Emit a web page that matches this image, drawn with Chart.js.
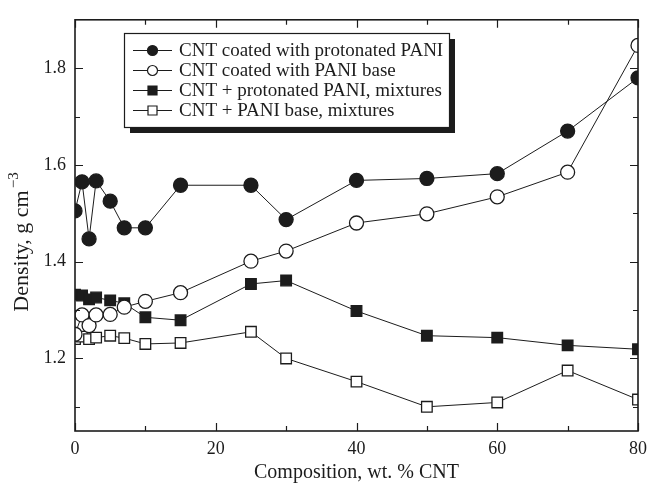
<!DOCTYPE html>
<html>
<head>
<meta charset="utf-8">
<script src="https://cdn.jsdelivr.net/npm/chart.js@4.4.1/dist/chart.umd.min.js"></script>
<style>
  html, body { margin: 0; padding: 0; background: #fff; }
</style>
</head>
<body>
<canvas id="chart" width="654" height="486"></canvas>
<script>
// Composition values (wt. % CNT) shared by all four series
const composition = [0, 1, 2, 3, 5, 7, 10, 15, 25, 30, 40, 50, 60, 70, 80];

// Densities, g cm-3
const coatedProtonated = [1.505, 1.565, 1.447, 1.567, 1.525, 1.470, 1.470, 1.558, 1.558, 1.487, 1.568, 1.572, 1.582, 1.670, 1.780];
const coatedBase = [1.250, 1.290, 1.268, 1.290, 1.291, 1.306, 1.318, 1.336, 1.401, 1.422, 1.480, 1.499, 1.534, 1.585, 1.847];
const mixProtonated = [1.332, 1.330, 1.322, 1.326, 1.320, 1.314, 1.285, 1.279, 1.354, 1.361, 1.298, 1.247, 1.243, 1.227, 1.219];
const mixBase = [1.240, 1.245, 1.240, 1.243, 1.247, 1.242, 1.230, 1.232, 1.255, 1.200, 1.152, 1.100, 1.109, 1.175, 1.115];

const seriesNames = [
    'CNT coated with protonated PANI',
    'CNT coated with PANI base',
    'CNT + protonated PANI, mixtures',
    'CNT + PANI base, mixtures'
];

// Tick values
const xLabelTicks = [0, 20, 40, 60, 80];
const xMinorTicks = [10, 30, 50, 70];
const yLabelTicks = [1.2, 1.4, 1.6, 1.8];
const yMinorTicks = [1.1, 1.3, 1.5, 1.7];

const yTitle = 'Density, g cm';
const yTitleSup = '\u22123';

const INK = '#1c1c1c';
const SERIF = "'Liberation Serif', 'Times New Roman', serif";

function toPoints(values) {
    return composition.map(function (x, i) {
        return {x: x, y: values[i]};
    });
}

function series(label, values, shape, filled) {
    return {
        label: label,
        data: toPoints(values),
        showLine: true,
        borderColor: INK,
        borderWidth: 1,
        pointStyle: shape,
        pointRadius: shape === 'rect' ? 7.5 : 7,
        pointBorderWidth: 1.3,
        pointBorderColor: INK,
        pointBackgroundColor: filled ? INK : '#fff',
        fill: false
    };
}

//Inward ticks on all four sides, plus the frame.
const frameTicks = {
    id: 'frameTicks',
    afterDraw: function (chart) {
        const ctx = chart.ctx;
        const a = chart.chartArea;
        const xs = chart.scales.x;
        const ys = chart.scales.y;
        ctx.save();
        ctx.strokeStyle = INK;
        ctx.lineWidth = 1.2;
        ctx.beginPath();
        function xTick(v, len) {
            const px = Math.round(xs.getPixelForValue(v)) + 0.5;
            ctx.moveTo(px, a.bottom); ctx.lineTo(px, a.bottom - len);
            ctx.moveTo(px, a.top); ctx.lineTo(px, a.top + len);
        }
        function yTick(v, len) {
            const py = Math.round(ys.getPixelForValue(v)) + 0.5;
            ctx.moveTo(a.left, py); ctx.lineTo(a.left + len, py);
            ctx.moveTo(a.right, py); ctx.lineTo(a.right - len, py);
        }
        xLabelTicks.forEach(function (v) { xTick(v, 8); });
        xMinorTicks.forEach(function (v) { xTick(v, 5); });
        yLabelTicks.forEach(function (v) { yTick(v, 8); });
        yMinorTicks.forEach(function (v) { yTick(v, 5); });
        ctx.stroke();
        ctx.lineWidth = 1.6;
        ctx.strokeRect(a.left, a.top, a.right - a.left, a.bottom - a.top);
        ctx.restore();
    }
};

//Rotated y axis title with a real superscript.
const yAxisTitle = {
    id: 'yAxisTitle',
    afterDraw: function (chart) {
        const ctx = chart.ctx;
        ctx.save();
        ctx.translate(22, 242);
        ctx.rotate(-Math.PI / 2);
        ctx.fillStyle = INK;
        ctx.textBaseline = 'middle';
        ctx.font = '22px ' + SERIF;
        const mainWidth = ctx.measureText(yTitle).width;
        ctx.font = '15px ' + SERIF;
        const supWidth = ctx.measureText(yTitleSup).width;
        const start = -(mainWidth + supWidth + 2) / 2;
        ctx.font = '22px ' + SERIF;
        ctx.fillText(yTitle, start, 0);
        ctx.font = '15px ' + SERIF;
        ctx.fillText(yTitleSup, start + mainWidth + 2, -8);
        ctx.restore();
    }
};

//Legend box with a drop shadow, inside the plot.
const boxLegend = {
    id: 'boxLegend',
    afterDatasetsDraw: function (chart) {
        const ctx = chart.ctx;
        const box = {left: 124, top: 33, right: 449, bottom: 127};
        const shadow = 6;
        ctx.save();
        ctx.fillStyle = INK;
        ctx.fillRect(box.left + shadow, box.top + shadow, box.right - box.left, box.bottom - box.top);
        ctx.fillStyle = '#fff';
        ctx.fillRect(box.left, box.top, box.right - box.left, box.bottom - box.top);
        ctx.strokeStyle = INK;
        ctx.lineWidth = 1.2;
        ctx.strokeRect(box.left + 0.5, box.top + 0.5, box.right - box.left, box.bottom - box.top);

        ctx.font = '19px ' + SERIF;
        ctx.textBaseline = 'middle';
        chart.data.datasets.forEach(function (ds, i) {
            const y = 50 + i * 20;
            ctx.strokeStyle = INK;
            ctx.lineWidth = 1;
            ctx.beginPath();
            ctx.moveTo(133, y + 0.5);
            ctx.lineTo(172, y + 0.5);
            ctx.stroke();
            ctx.fillStyle = ds.pointBackgroundColor;
            ctx.lineWidth = 1.2;
            ctx.beginPath();
            if (ds.pointStyle === 'rect') {
                ctx.rect(148, y - 4, 9, 9);
            } else {
                ctx.arc(152.5, y + 0.5, 5, 0, Math.PI * 2);
            }
            ctx.fill();
            ctx.stroke();
            ctx.fillStyle = INK;
            ctx.fillText(ds.label, 179, y + 1);
        });
        ctx.restore();
    }
};

const config = {
    type: 'scatter',
    data: {
        datasets: [
            series(seriesNames[0], coatedProtonated, 'circle', true),
            series(seriesNames[1], coatedBase, 'circle', false),
            series(seriesNames[2], mixProtonated, 'rect', true),
            series(seriesNames[3], mixBase, 'rect', false)
        ]
    },
    options: {
        responsive: false,
        animation: false,
        layout: {padding: {left: 0, right: 13, top: 11, bottom: 0}},
        plugins: {legend: {display: false}, tooltip: {enabled: false}},
        scales: {
            x: {
                type: 'linear',
                min: 0,
                max: 80,
                grid: {display: false, drawTicks: false},
                border: {display: false},
                afterBuildTicks: function (scale) {
                    scale.ticks = xLabelTicks.map(function (v) { return {value: v}; });
                },
                afterFit: function (scale) { scale.height = 55; },
                ticks: {
                    padding: 7,
                    color: INK,
                    maxRotation: 0,
                    font: {family: SERIF, size: 18}
                },
                title: {
                    display: true,
                    text: 'Composition, wt. % CNT',
                    color: INK,
                    padding: {top: 0, bottom: 1},
                    font: {family: SERIF, size: 20}
                }
            },
            y: {
                type: 'linear',
                min: 1.05,
                max: 1.9,
                grid: {display: false, drawTicks: false},
                border: {display: false},
                afterBuildTicks: function (scale) {
                    scale.ticks = yLabelTicks.map(function (v) { return {value: v}; });
                },
                afterFit: function (scale) { scale.width = 75; },
                ticks: {
                    padding: 9,
                    color: INK,
                    font: {family: SERIF, size: 18},
                    callback: function (v) { return v.toFixed(1); }
                }
            }
        }
    },
    plugins: [boxLegend, frameTicks, yAxisTitle]
};

window.onload = function () {
    window.myChart = new Chart(document.getElementById('chart').getContext('2d'), config);
};
</script>
</body>
</html>
